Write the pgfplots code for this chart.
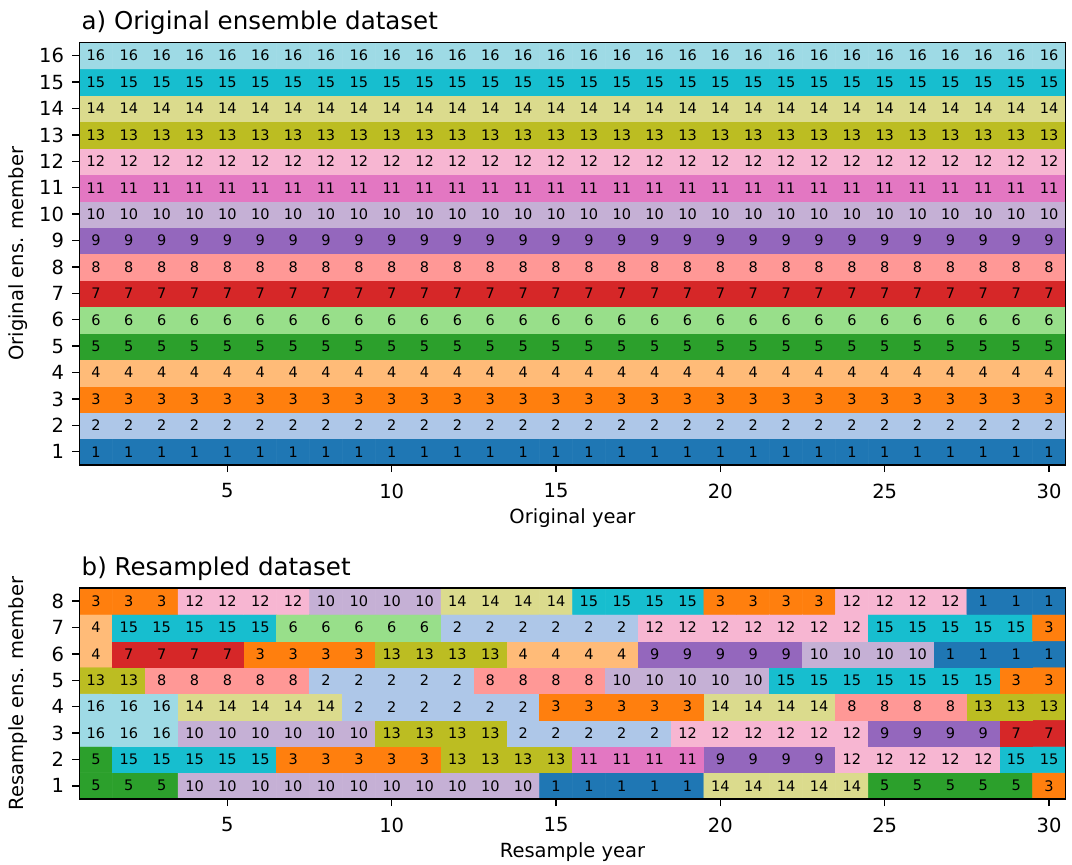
\documentclass[border=0pt]{standalone}
\usepackage{fontspec}
\setmainfont{DejaVu Sans}
\usepackage{pgfplots}
\pgfplotsset{compat=1.18}

\pgfplotsset{
  colormap={tabsix}{
    rgb255=(255,255,255)
    rgb255=(31,119,180) rgb255=(174,199,232)
    rgb255=(255,127,14) rgb255=(255,187,120)
    rgb255=(44,160,44) rgb255=(152,223,138)
    rgb255=(214,39,40) rgb255=(255,152,150)
    rgb255=(148,103,189) rgb255=(197,176,213)
    rgb255=(227,119,194) rgb255=(247,182,210)
    rgb255=(188,189,34) rgb255=(219,219,141)
    rgb255=(23,190,207) rgb255=(158,218,229)
  },
  myax/.style={
    scale only axis,
    width=986pt,
    enlargelimits=false,
    xmin=0.5, xmax=30.5,
    xtick={5,10,15,20,25,30},
    tick align=outside,
    tick pos=left,
    major tick length=7pt,
    every tick/.style={black, line width=1.4pt},
    axis line style={black, line width=1.2pt},
    axis on top,
    /pgf/number format/assume math mode=true,
    tick label style={font=\fontsize{19.5}{24}\selectfont, black},
    xticklabel style={yshift=-8pt},
    yticklabel style={xshift=-5pt},
    every axis title/.style={at={(0,1)}, anchor=base west, inner sep=0pt, xshift=2pt, yshift=13pt, font=\fontsize{24.5}{28}\selectfont},
    every axis y label/.style={at={(axis description cs:-0.0624,0.5)}, rotate=90, anchor=center, font=\fontsize{19.5}{24}\selectfont},
    colormap name=tabsix,
    colormap access=direct,
  },
  cells/.style={
    matrix plot*,
    draw=mapped color, line width=0.5pt,
    mesh/cols=30,
    mesh/ordering=x varies,
    point meta=explicit,
    nodes near coords,
    nodes near coords align={center},
    every node near coord/.append style={font=\fontsize{14.5}{16}\selectfont, black, inner sep=0pt, anchor=center},
  },
}

\begin{document}
\begin{tikzpicture}
\useasboundingbox (-79.5pt,465pt) rectangle (992.5pt,-400pt);

\begin{axis}[myax,
  height=422.5pt,
  ymin=0.5, ymax=16.5,
  ytick={1,...,16},
  title={a) Original ensemble dataset},
  xlabel={Original year},
  ylabel={Original ens. member},
  every axis x label/.style={at={(axis description cs:0.5,-0.1254)}, anchor=center, font=\fontsize{19.5}{24}\selectfont},
]
\addplot[cells] coordinates {
(1,1)[1] (2,1)[1] (3,1)[1] (4,1)[1] (5,1)[1] (6,1)[1] (7,1)[1] (8,1)[1] (9,1)[1] (10,1)[1] (11,1)[1] (12,1)[1] (13,1)[1] (14,1)[1] (15,1)[1] (16,1)[1] (17,1)[1] (18,1)[1] (19,1)[1] (20,1)[1] (21,1)[1] (22,1)[1] (23,1)[1] (24,1)[1] (25,1)[1] (26,1)[1] (27,1)[1] (28,1)[1] (29,1)[1] (30,1)[1]
(1,2)[2] (2,2)[2] (3,2)[2] (4,2)[2] (5,2)[2] (6,2)[2] (7,2)[2] (8,2)[2] (9,2)[2] (10,2)[2] (11,2)[2] (12,2)[2] (13,2)[2] (14,2)[2] (15,2)[2] (16,2)[2] (17,2)[2] (18,2)[2] (19,2)[2] (20,2)[2] (21,2)[2] (22,2)[2] (23,2)[2] (24,2)[2] (25,2)[2] (26,2)[2] (27,2)[2] (28,2)[2] (29,2)[2] (30,2)[2]
(1,3)[3] (2,3)[3] (3,3)[3] (4,3)[3] (5,3)[3] (6,3)[3] (7,3)[3] (8,3)[3] (9,3)[3] (10,3)[3] (11,3)[3] (12,3)[3] (13,3)[3] (14,3)[3] (15,3)[3] (16,3)[3] (17,3)[3] (18,3)[3] (19,3)[3] (20,3)[3] (21,3)[3] (22,3)[3] (23,3)[3] (24,3)[3] (25,3)[3] (26,3)[3] (27,3)[3] (28,3)[3] (29,3)[3] (30,3)[3]
(1,4)[4] (2,4)[4] (3,4)[4] (4,4)[4] (5,4)[4] (6,4)[4] (7,4)[4] (8,4)[4] (9,4)[4] (10,4)[4] (11,4)[4] (12,4)[4] (13,4)[4] (14,4)[4] (15,4)[4] (16,4)[4] (17,4)[4] (18,4)[4] (19,4)[4] (20,4)[4] (21,4)[4] (22,4)[4] (23,4)[4] (24,4)[4] (25,4)[4] (26,4)[4] (27,4)[4] (28,4)[4] (29,4)[4] (30,4)[4]
(1,5)[5] (2,5)[5] (3,5)[5] (4,5)[5] (5,5)[5] (6,5)[5] (7,5)[5] (8,5)[5] (9,5)[5] (10,5)[5] (11,5)[5] (12,5)[5] (13,5)[5] (14,5)[5] (15,5)[5] (16,5)[5] (17,5)[5] (18,5)[5] (19,5)[5] (20,5)[5] (21,5)[5] (22,5)[5] (23,5)[5] (24,5)[5] (25,5)[5] (26,5)[5] (27,5)[5] (28,5)[5] (29,5)[5] (30,5)[5]
(1,6)[6] (2,6)[6] (3,6)[6] (4,6)[6] (5,6)[6] (6,6)[6] (7,6)[6] (8,6)[6] (9,6)[6] (10,6)[6] (11,6)[6] (12,6)[6] (13,6)[6] (14,6)[6] (15,6)[6] (16,6)[6] (17,6)[6] (18,6)[6] (19,6)[6] (20,6)[6] (21,6)[6] (22,6)[6] (23,6)[6] (24,6)[6] (25,6)[6] (26,6)[6] (27,6)[6] (28,6)[6] (29,6)[6] (30,6)[6]
(1,7)[7] (2,7)[7] (3,7)[7] (4,7)[7] (5,7)[7] (6,7)[7] (7,7)[7] (8,7)[7] (9,7)[7] (10,7)[7] (11,7)[7] (12,7)[7] (13,7)[7] (14,7)[7] (15,7)[7] (16,7)[7] (17,7)[7] (18,7)[7] (19,7)[7] (20,7)[7] (21,7)[7] (22,7)[7] (23,7)[7] (24,7)[7] (25,7)[7] (26,7)[7] (27,7)[7] (28,7)[7] (29,7)[7] (30,7)[7]
(1,8)[8] (2,8)[8] (3,8)[8] (4,8)[8] (5,8)[8] (6,8)[8] (7,8)[8] (8,8)[8] (9,8)[8] (10,8)[8] (11,8)[8] (12,8)[8] (13,8)[8] (14,8)[8] (15,8)[8] (16,8)[8] (17,8)[8] (18,8)[8] (19,8)[8] (20,8)[8] (21,8)[8] (22,8)[8] (23,8)[8] (24,8)[8] (25,8)[8] (26,8)[8] (27,8)[8] (28,8)[8] (29,8)[8] (30,8)[8]
(1,9)[9] (2,9)[9] (3,9)[9] (4,9)[9] (5,9)[9] (6,9)[9] (7,9)[9] (8,9)[9] (9,9)[9] (10,9)[9] (11,9)[9] (12,9)[9] (13,9)[9] (14,9)[9] (15,9)[9] (16,9)[9] (17,9)[9] (18,9)[9] (19,9)[9] (20,9)[9] (21,9)[9] (22,9)[9] (23,9)[9] (24,9)[9] (25,9)[9] (26,9)[9] (27,9)[9] (28,9)[9] (29,9)[9] (30,9)[9]
(1,10)[10] (2,10)[10] (3,10)[10] (4,10)[10] (5,10)[10] (6,10)[10] (7,10)[10] (8,10)[10] (9,10)[10] (10,10)[10] (11,10)[10] (12,10)[10] (13,10)[10] (14,10)[10] (15,10)[10] (16,10)[10] (17,10)[10] (18,10)[10] (19,10)[10] (20,10)[10] (21,10)[10] (22,10)[10] (23,10)[10] (24,10)[10] (25,10)[10] (26,10)[10] (27,10)[10] (28,10)[10] (29,10)[10] (30,10)[10]
(1,11)[11] (2,11)[11] (3,11)[11] (4,11)[11] (5,11)[11] (6,11)[11] (7,11)[11] (8,11)[11] (9,11)[11] (10,11)[11] (11,11)[11] (12,11)[11] (13,11)[11] (14,11)[11] (15,11)[11] (16,11)[11] (17,11)[11] (18,11)[11] (19,11)[11] (20,11)[11] (21,11)[11] (22,11)[11] (23,11)[11] (24,11)[11] (25,11)[11] (26,11)[11] (27,11)[11] (28,11)[11] (29,11)[11] (30,11)[11]
(1,12)[12] (2,12)[12] (3,12)[12] (4,12)[12] (5,12)[12] (6,12)[12] (7,12)[12] (8,12)[12] (9,12)[12] (10,12)[12] (11,12)[12] (12,12)[12] (13,12)[12] (14,12)[12] (15,12)[12] (16,12)[12] (17,12)[12] (18,12)[12] (19,12)[12] (20,12)[12] (21,12)[12] (22,12)[12] (23,12)[12] (24,12)[12] (25,12)[12] (26,12)[12] (27,12)[12] (28,12)[12] (29,12)[12] (30,12)[12]
(1,13)[13] (2,13)[13] (3,13)[13] (4,13)[13] (5,13)[13] (6,13)[13] (7,13)[13] (8,13)[13] (9,13)[13] (10,13)[13] (11,13)[13] (12,13)[13] (13,13)[13] (14,13)[13] (15,13)[13] (16,13)[13] (17,13)[13] (18,13)[13] (19,13)[13] (20,13)[13] (21,13)[13] (22,13)[13] (23,13)[13] (24,13)[13] (25,13)[13] (26,13)[13] (27,13)[13] (28,13)[13] (29,13)[13] (30,13)[13]
(1,14)[14] (2,14)[14] (3,14)[14] (4,14)[14] (5,14)[14] (6,14)[14] (7,14)[14] (8,14)[14] (9,14)[14] (10,14)[14] (11,14)[14] (12,14)[14] (13,14)[14] (14,14)[14] (15,14)[14] (16,14)[14] (17,14)[14] (18,14)[14] (19,14)[14] (20,14)[14] (21,14)[14] (22,14)[14] (23,14)[14] (24,14)[14] (25,14)[14] (26,14)[14] (27,14)[14] (28,14)[14] (29,14)[14] (30,14)[14]
(1,15)[15] (2,15)[15] (3,15)[15] (4,15)[15] (5,15)[15] (6,15)[15] (7,15)[15] (8,15)[15] (9,15)[15] (10,15)[15] (11,15)[15] (12,15)[15] (13,15)[15] (14,15)[15] (15,15)[15] (16,15)[15] (17,15)[15] (18,15)[15] (19,15)[15] (20,15)[15] (21,15)[15] (22,15)[15] (23,15)[15] (24,15)[15] (25,15)[15] (26,15)[15] (27,15)[15] (28,15)[15] (29,15)[15] (30,15)[15]
(1,16)[16] (2,16)[16] (3,16)[16] (4,16)[16] (5,16)[16] (6,16)[16] (7,16)[16] (8,16)[16] (9,16)[16] (10,16)[16] (11,16)[16] (12,16)[16] (13,16)[16] (14,16)[16] (15,16)[16] (16,16)[16] (17,16)[16] (18,16)[16] (19,16)[16] (20,16)[16] (21,16)[16] (22,16)[16] (23,16)[16] (24,16)[16] (25,16)[16] (26,16)[16] (27,16)[16] (28,16)[16] (29,16)[16] (30,16)[16]
};
\end{axis}

\begin{axis}[myax,
  at={(0pt,-334pt)}, anchor=south west,
  height=211pt,
  ymin=0.5, ymax=8.5,
  ytick={1,...,8},
  title={b) Resampled dataset},
  xlabel={Resample year},
  ylabel={Resample ens. member},
  every axis x label/.style={at={(axis description cs:0.5,-0.251)}, anchor=center, font=\fontsize{19.5}{24}\selectfont},
]
\addplot[cells] coordinates {
(1,1)[5] (2,1)[5] (3,1)[5] (4,1)[10] (5,1)[10] (6,1)[10] (7,1)[10] (8,1)[10] (9,1)[10] (10,1)[10] (11,1)[10] (12,1)[10] (13,1)[10] (14,1)[10] (15,1)[1] (16,1)[1] (17,1)[1] (18,1)[1] (19,1)[1] (20,1)[14] (21,1)[14] (22,1)[14] (23,1)[14] (24,1)[14] (25,1)[5] (26,1)[5] (27,1)[5] (28,1)[5] (29,1)[5] (30,1)[3]
(1,2)[5] (2,2)[15] (3,2)[15] (4,2)[15] (5,2)[15] (6,2)[15] (7,2)[3] (8,2)[3] (9,2)[3] (10,2)[3] (11,2)[3] (12,2)[13] (13,2)[13] (14,2)[13] (15,2)[13] (16,2)[11] (17,2)[11] (18,2)[11] (19,2)[11] (20,2)[9] (21,2)[9] (22,2)[9] (23,2)[9] (24,2)[12] (25,2)[12] (26,2)[12] (27,2)[12] (28,2)[12] (29,2)[15] (30,2)[15]
(1,3)[16] (2,3)[16] (3,3)[16] (4,3)[10] (5,3)[10] (6,3)[10] (7,3)[10] (8,3)[10] (9,3)[10] (10,3)[13] (11,3)[13] (12,3)[13] (13,3)[13] (14,3)[2] (15,3)[2] (16,3)[2] (17,3)[2] (18,3)[2] (19,3)[12] (20,3)[12] (21,3)[12] (22,3)[12] (23,3)[12] (24,3)[12] (25,3)[9] (26,3)[9] (27,3)[9] (28,3)[9] (29,3)[7] (30,3)[7]
(1,4)[16] (2,4)[16] (3,4)[16] (4,4)[14] (5,4)[14] (6,4)[14] (7,4)[14] (8,4)[14] (9,4)[2] (10,4)[2] (11,4)[2] (12,4)[2] (13,4)[2] (14,4)[2] (15,4)[3] (16,4)[3] (17,4)[3] (18,4)[3] (19,4)[3] (20,4)[14] (21,4)[14] (22,4)[14] (23,4)[14] (24,4)[8] (25,4)[8] (26,4)[8] (27,4)[8] (28,4)[13] (29,4)[13] (30,4)[13]
(1,5)[13] (2,5)[13] (3,5)[8] (4,5)[8] (5,5)[8] (6,5)[8] (7,5)[8] (8,5)[2] (9,5)[2] (10,5)[2] (11,5)[2] (12,5)[2] (13,5)[8] (14,5)[8] (15,5)[8] (16,5)[8] (17,5)[10] (18,5)[10] (19,5)[10] (20,5)[10] (21,5)[10] (22,5)[15] (23,5)[15] (24,5)[15] (25,5)[15] (26,5)[15] (27,5)[15] (28,5)[15] (29,5)[3] (30,5)[3]
(1,6)[4] (2,6)[7] (3,6)[7] (4,6)[7] (5,6)[7] (6,6)[3] (7,6)[3] (8,6)[3] (9,6)[3] (10,6)[13] (11,6)[13] (12,6)[13] (13,6)[13] (14,6)[4] (15,6)[4] (16,6)[4] (17,6)[4] (18,6)[9] (19,6)[9] (20,6)[9] (21,6)[9] (22,6)[9] (23,6)[10] (24,6)[10] (25,6)[10] (26,6)[10] (27,6)[1] (28,6)[1] (29,6)[1] (30,6)[1]
(1,7)[4] (2,7)[15] (3,7)[15] (4,7)[15] (5,7)[15] (6,7)[15] (7,7)[6] (8,7)[6] (9,7)[6] (10,7)[6] (11,7)[6] (12,7)[2] (13,7)[2] (14,7)[2] (15,7)[2] (16,7)[2] (17,7)[2] (18,7)[12] (19,7)[12] (20,7)[12] (21,7)[12] (22,7)[12] (23,7)[12] (24,7)[12] (25,7)[15] (26,7)[15] (27,7)[15] (28,7)[15] (29,7)[15] (30,7)[3]
(1,8)[3] (2,8)[3] (3,8)[3] (4,8)[12] (5,8)[12] (6,8)[12] (7,8)[12] (8,8)[10] (9,8)[10] (10,8)[10] (11,8)[10] (12,8)[14] (13,8)[14] (14,8)[14] (15,8)[14] (16,8)[15] (17,8)[15] (18,8)[15] (19,8)[15] (20,8)[3] (21,8)[3] (22,8)[3] (23,8)[3] (24,8)[12] (25,8)[12] (26,8)[12] (27,8)[12] (28,8)[1] (29,8)[1] (30,8)[1]
};
\end{axis}
\end{tikzpicture}
\end{document}
